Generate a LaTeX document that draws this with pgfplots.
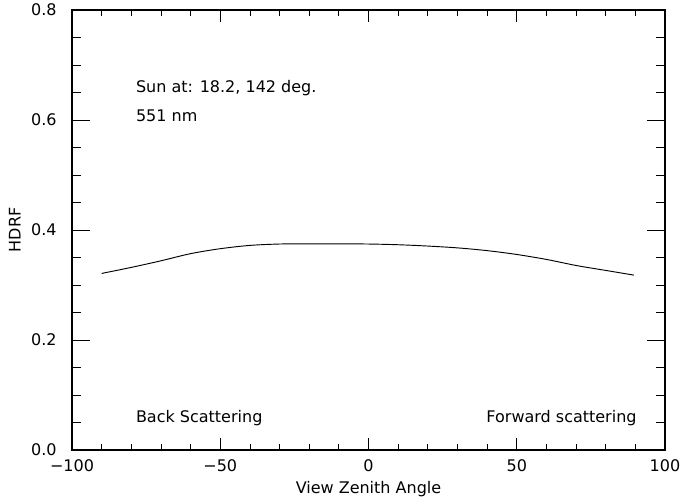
\documentclass[border=0pt]{standalone}
\usepackage{fontspec}
\setmainfont{DejaVu Sans}
\usepackage{pgfplots}
\pgfplotsset{compat=1.18}
\newcommand{\fs}{\fontsize{12}{14}\selectfont}
\begin{document}
\begin{tikzpicture}[x=0.75pt,y=0.75pt]
\useasboundingbox (-72,-48) rectangle (619,450);
\begin{axis}[
  at={(0,0)}, anchor=south west,
  scale only axis,
  width=444.75pt, height=330pt,
  xmin=-100, xmax=100, ymin=0, ymax=0.8,
  xtick={-100,-50,0,50,100},
  xticklabels={−100,−50,0,50,100},
  ytick={0,0.2,0.4,0.6,0.8},
  yticklabels={0.0,0.2,0.4,0.6,0.8},
  minor x tick num=4,
  minor y tick num=3,
  tick align=inside,
  axis line style={line width=0.8pt},
  every tick/.style={black, line width=0.6pt},
  every major x tick/.append style={/pgfplots/major tick length=9pt},
  every minor x tick/.append style={/pgfplots/minor tick length=4.5pt},
  every major y tick/.append style={/pgfplots/major tick length=13.5pt},
  every minor y tick/.append style={/pgfplots/minor tick length=7pt},
  tick label style={font=\fs},
  xticklabel style={yshift=-4pt},
  yticklabel style={xshift=-8pt},
  label style={font=\fs},
  xlabel={View Zenith Angle},
  ylabel={HDRF},
  xlabel style={yshift=0pt},
  ylabel style={yshift=1pt},
  clip=false,
]
\addplot[black, line width=0.7pt, smooth, tension=0.5] coordinates {
(-90,0.321) (-80,0.332) (-70,0.344) (-60,0.357) (-50,0.366) (-40,0.372) (-30,0.3745) (-20,0.3748) (-10,0.3748) (0,0.3745) (10,0.3732) (20,0.3708) (30,0.3675) (40,0.3625) (50,0.3555) (60,0.3465) (70,0.3355) (80,0.3265) (89.5,0.318)
};
\node[anchor=west, font=\fs] at (axis cs:-80,0.658) {Sun at: 18.2, 142 deg.};
\node[anchor=west, font=\fs] at (axis cs:-80,0.607) {551 nm};
\node[anchor=west, font=\fs] at (axis cs:-80,0.058) {Back Scattering};
\node[anchor=east, font=\fs] at (axis cs:92,0.058) {Forward scattering};
\end{axis}
\end{tikzpicture}
\end{document}
